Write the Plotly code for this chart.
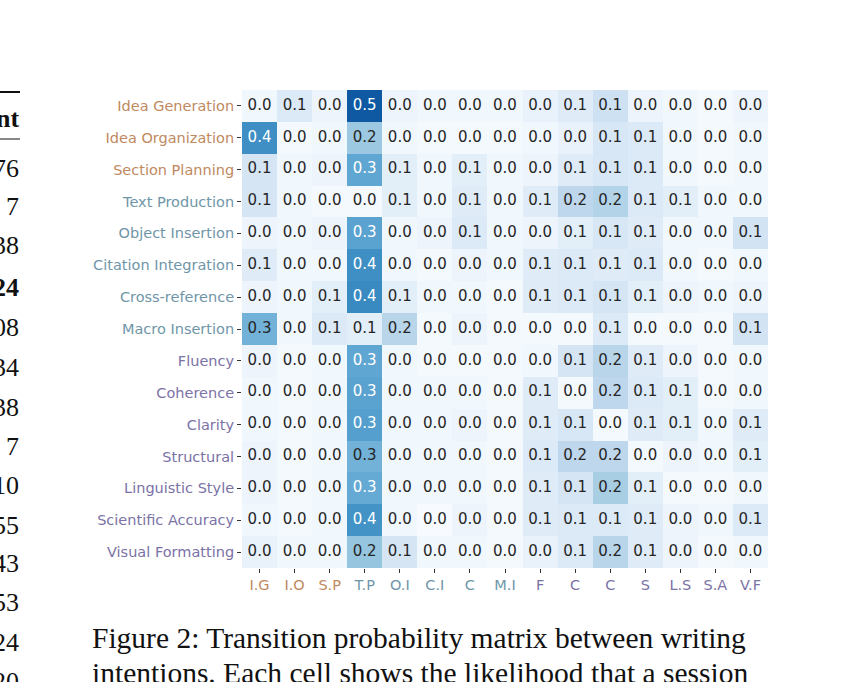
import plotly.graph_objects as go

rows = ["Idea Generation", "Idea Organization", "Section Planning", "Text Production",
        "Object Insertion", "Citation Integration", "Cross-reference", "Macro Insertion",
        "Fluency", "Coherence", "Clarity", "Structural", "Linguistic Style",
        "Scientific Accuracy", "Visual Formatting"]
cols = ["I.G", "I.O", "S.P", "T.P", "O.I", "C.I", "C", "M.I", "F", "C", "C", "S", "L.S", "S.A", "V.F"]
groups = [0, 0, 0, 1, 1, 1, 1, 1, 2, 2, 2, 2, 2, 2, 2]

values = [
    [0.02, 0.08, 0.03, 0.49, 0.03, 0.02, 0.02, 0.02, 0.04, 0.07, 0.12, 0.03, 0.02, 0.01, 0.03],
    [0.37, 0.01, 0.02, 0.22, 0.02, 0.01, 0.01, 0.01, 0.02, 0.04, 0.09, 0.08, 0.02, 0.01, 0.02],
    [0.10, 0.02, 0.03, 0.31, 0.06, 0.02, 0.06, 0.02, 0.03, 0.07, 0.09, 0.08, 0.02, 0.01, 0.02],
    [0.10, 0.02, 0.01, 0.01, 0.06, 0.02, 0.07, 0.02, 0.07, 0.16, 0.18, 0.08, 0.06, 0.02, 0.02],
    [0.03, 0.02, 0.03, 0.32, 0.02, 0.03, 0.08, 0.02, 0.03, 0.06, 0.09, 0.07, 0.02, 0.02, 0.11],
    [0.07, 0.02, 0.02, 0.37, 0.02, 0.01, 0.03, 0.02, 0.07, 0.08, 0.07, 0.08, 0.02, 0.01, 0.02],
    [0.03, 0.02, 0.06, 0.38, 0.06, 0.02, 0.02, 0.01, 0.07, 0.08, 0.10, 0.06, 0.03, 0.02, 0.03],
    [0.28, 0.02, 0.08, 0.06, 0.17, 0.01, 0.03, 0.01, 0.01, 0.01, 0.08, 0.01, 0.01, 0.01, 0.11],
    [0.03, 0.01, 0.02, 0.31, 0.02, 0.01, 0.01, 0.01, 0.02, 0.10, 0.17, 0.07, 0.03, 0.01, 0.02],
    [0.02, 0.01, 0.02, 0.32, 0.02, 0.02, 0.02, 0.01, 0.07, 0.01, 0.16, 0.08, 0.06, 0.01, 0.02],
    [0.02, 0.01, 0.02, 0.33, 0.02, 0.02, 0.03, 0.01, 0.07, 0.09, 0.01, 0.07, 0.06, 0.02, 0.07],
    [0.03, 0.01, 0.02, 0.28, 0.02, 0.02, 0.02, 0.01, 0.08, 0.16, 0.16, 0.01, 0.03, 0.02, 0.06],
    [0.03, 0.01, 0.02, 0.30, 0.02, 0.02, 0.02, 0.01, 0.07, 0.10, 0.20, 0.06, 0.01, 0.01, 0.02],
    [0.02, 0.01, 0.02, 0.36, 0.02, 0.00, 0.03, 0.01, 0.07, 0.08, 0.08, 0.07, 0.03, 0.02, 0.08],
    [0.04, 0.02, 0.02, 0.23, 0.10, 0.02, 0.02, 0.01, 0.04, 0.08, 0.17, 0.07, 0.03, 0.01, 0.02],
]

table_cells = ["nt", "76", "7", "38", "24", "08", "34", "38", "7", "10", "55", "43", "53", "24", "20"]
caption_lines = ["Figure 2: Transition probability matrix between writing",
                 "intentions. Each cell shows the likelihood that a session"]

W, H = 861, 682
L, R, T, B = 242, 768, 90, 568
group_colors = ["#c0895f", "#6f96a8", "#7b72a6"]

def px_x(p):
    return (p - L) / (R - L)

def px_y(p):
    return (B - p) / (B - T)

n = len(rows)
fig = go.Figure()
fig.add_trace(go.Heatmap(
    z=values, x=list(range(n)), y=list(range(n)),
    colorscale="Blues", zmin=0, zmax=0.58, showscale=False,
    xgap=0, ygap=0, hoverinfo="skip"))

tx, ty, tt, tc = [], [], [], []
for i in range(n):
    for j in range(n):
        v = values[i][j]
        tx.append(j); ty.append(i)
        tt.append(f"{v:.1f}")
        tc.append("#ffffff" if v >= 0.295 else "#262626")
fig.add_trace(go.Scatter(x=tx, y=ty, text=tt, mode="text",
                         textfont=dict(family="DejaVu Sans", size=15, color=tc),
                         hoverinfo="skip", showlegend=False))

ytext = [f'<span style="color:{group_colors[groups[i]]}">{r}</span>' for i, r in enumerate(rows)]
xtext = [f'<span style="color:{group_colors[groups[j]]}">{c}</span>' for j, c in enumerate(cols)]

fig.update_xaxes(tickmode="array", tickvals=list(range(n)), ticktext=xtext,
                 ticks="outside", ticklen=4, tickwidth=1, tickcolor="#333333",
                 tickfont=dict(family="DejaVu Sans", size=14.5),
                 showgrid=False, zeroline=False, range=[-0.5, n - 0.5])
fig.update_yaxes(tickmode="array", tickvals=list(range(n)), ticktext=ytext,
                 ticks="outside", ticklen=4, tickwidth=1, tickcolor="#333333",
                 tickfont=dict(family="DejaVu Sans", size=14.5),
                 showgrid=False, zeroline=False, range=[n - 0.5, -0.5])

annotations = []
row_y = [118, 168, 206, 245, 287, 327, 367, 407, 446, 485, 525, 563, 602, 642, 681]
for k, t in enumerate(table_cells):
    bold = k == 0 or k == 4
    annotations.append(dict(
        x=px_x(21), y=px_y(row_y[k]), xref="paper", yref="paper",
        xanchor="right", yanchor="middle", showarrow=False,
        text=f"<b>{t}</b>" if bold else t,
        font=dict(family="Liberation Serif", size=26, color="#111111")))
cap_y = [638, 673]
for k, t in enumerate(caption_lines):
    annotations.append(dict(
        x=px_x(90), y=px_y(cap_y[k]), xref="paper", yref="paper",
        xanchor="left", yanchor="middle", showarrow=False, text=t,
        font=dict(family="Liberation Serif", size=29.5, color="#111111")))

shapes = [
    dict(type="line", xref="paper", yref="paper", x0=px_x(0), x1=px_x(20),
         y0=px_y(92), y1=px_y(92), line=dict(color="#111111", width=2)),
    dict(type="line", xref="paper", yref="paper", x0=px_x(0), x1=px_x(20),
         y0=px_y(139), y1=px_y(139), line=dict(color="#111111", width=1)),
]

fig.update_layout(width=W, height=H, autosize=False,
                  margin=dict(l=L, r=W - R, t=T, b=H - B, pad=0),
                  paper_bgcolor="white", plot_bgcolor="white",
                  showlegend=False, annotations=annotations, shapes=shapes)

fig.write_html("out.html")
